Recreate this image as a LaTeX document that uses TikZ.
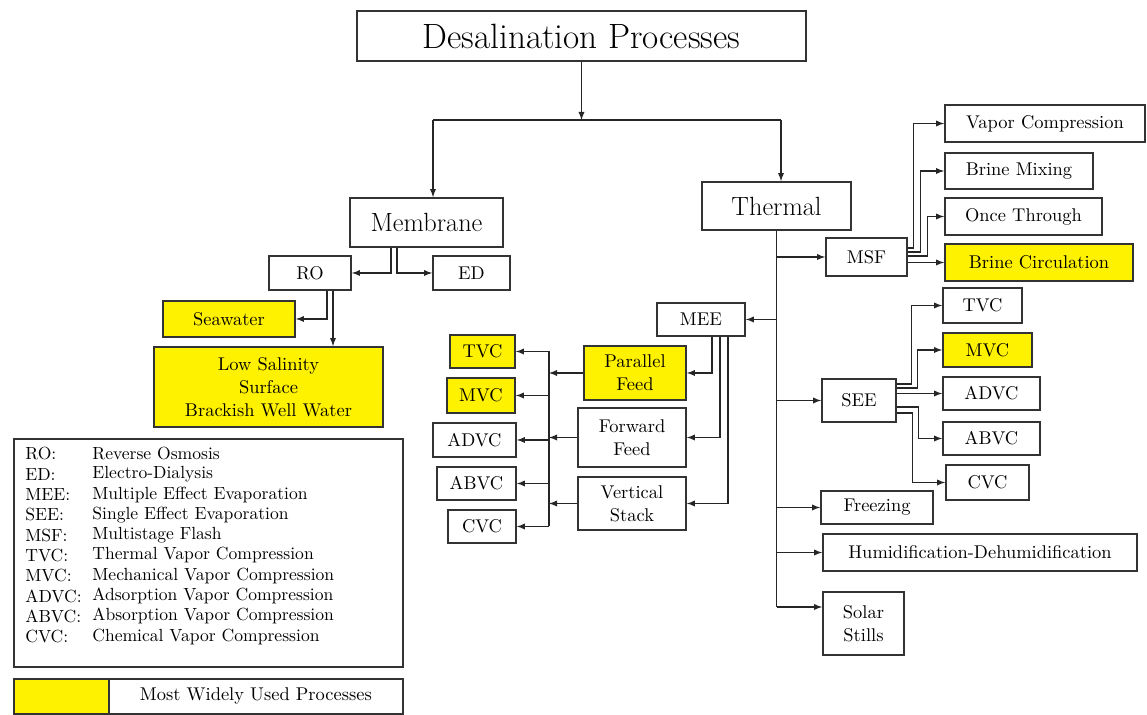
\documentclass[tikz,border=0pt]{standalone}
\usepackage{tikz}
\usetikzlibrary{calc, positioning}

\begin{document}
\begin{tikzpicture}[>=latex, x=0.02cm, y=-0.02cm,
    box/.style={draw=black!80, line width=1pt, inner sep=1pt, align=center, font=\fontsize{10.5}{13}\selectfont},
    big/.style={font=\fontsize{15}{17}\selectfont},
    hl/.style={fill=yellow},
    sz/.style 2 args={minimum width=#1*0.02cm, minimum height=#2*0.02cm},
    link/.style={line width=0.6pt, draw=black!85},
    lg/.style={anchor=west, inner sep=0pt, font=\fontsize{10}{12}\selectfont}]
    \useasboundingbox (0,0) rectangle (1147,715);
    % Các hộp chính
    \node[box, sz={449}{50}, font=\fontsize{20}{22}\selectfont] (title) at (581.5,36) {Desalination Processes};
    \node[box, big, sz={153}{49}] (membrane) at (426.5,222.5) {Membrane};
    \node[box, big, sz={149}{48}] (thermal) at (776.5,206) {Thermal};
    % Nhánh màng
    \node[box, sz={82}{34}] (ro) at (310,273) {RO};
    \node[box, sz={77}{34}] (ed) at (471.5,273) {ED};
    \node[box, hl, sz={132}{36}] (seawater) at (229,319) {Seawater};
    \node[box, hl, sz={229}{80}] (lowsal) at (268.5,387) {Low Salinity\\Surface\\Brackish Well Water};
    % Nhánh nhiệt: MSF
    \node[box, sz={81}{38}] (msf) at (866.5,257) {MSF};
    \node[box, sz={200}{37}] (vapcomp) at (1045,123.5) {Vapor Compression};
    \node[box, sz={148}{36}] (brinemix) at (1019,171) {Brine Mixing};
    \node[box, sz={157}{37}] (oncethru) at (1023.5,216.5) {Once Through};
    \node[box, hl, sz={188}{37}] (brinecirc) at (1039,262.5) {Brine Circulation};
    % SEE
    \node[box, sz={74}{43}] (see) at (859,400.5) {SEE};
    \node[box, sz={79}{35}] (tvcs) at (982.5,305.5) {TVC};
    \node[box, hl, sz={89}{34}] (mvcs) at (987.5,350) {MVC};
    \node[box, sz={97}{33}] (advcs) at (991.5,393.5) {ADVC};
    \node[box, sz={97}{33}] (abvcs) at (991.5,438.5) {ABVC};
    \node[box, sz={83}{35}] (cvcs) at (987.5,482.5) {CVC};
    \node[box, sz={112}{33}] (freezing) at (877,507.5) {Freezing};
    \node[box, sz={314}{37}] (humid) at (980,552.5) {Humidification-Dehumidification};
    \node[box, sz={81}{63}] (solar) at (863.5,623.5) {Solar\\Stills};
    % MEE
    \node[box, sz={88}{33}] (mee) at (701,319.5) {MEE};
    \node[box, hl, sz={102}{54}] (parallel) at (635,373) {Parallel\\Feed};
    \node[box, sz={108}{59}] (forward) at (632,437.5) {Forward\\Feed};
    \node[box, sz={108}{53}] (vertical) at (632,503.5) {Vertical\\Stack};
    \node[box, hl, sz={65}{33}] (tvcm) at (482.5,351.5) {TVC};
    \node[box, hl, sz={68}{35}] (mvcm) at (481,395.5) {MVC};
    \node[box, sz={83}{34}] (advcm) at (474.5,440) {ADVC};
    \node[box, sz={79}{33}] (abvcm) at (476.5,483.5) {ABVC};
    \node[box, sz={68}{33}] (cvcm) at (482,526.5) {CVC};

    % Đường nối phía trên
    \coordinate (jl) at (433,120);
    \coordinate (jr) at (781,120);
    \draw[link, ->] (title.south) -- (title.south |- jl);
    \draw[link] (jl) -- (jr);
    \draw[link, ->] (jl) -- (jl |- membrane.north);
    \draw[link, ->] (jr) -- (jr |- thermal.north);

    % Màng
    \draw[link, ->] (membrane.south -| 391,0) |- (ro.east);
    \draw[link, ->] (membrane.south -| 397,0) |- (ed.west);
    \draw[link, ->] (ro.south -| 327,0) |- (seawater.east);
    \draw[link, ->] (ro.south -| 333,0) -- (lowsal.north -| 333,0);

    % Trục nhiệt
    \coordinate (solarin) at (solar.west |- 0,607);
    \draw[link] (thermal.south) -- (thermal.south |- solarin);
    \draw[link, ->] (thermal.south |- solarin) -- (solarin);
    \foreach \n in {msf, see, freezing, humid}
        \draw[link, ->] (thermal.south |- \n.west) -- (\n.west);
    \draw[link, ->] (thermal.south |- mee.east) -- (mee.east);

    % MSF
    \draw[link, ->] (msf.east |- 0,248) -- ++(6,0) |- (vapcomp.west);
    \draw[link, ->] (msf.east |- 0,252) -- ++(13,0) |- (brinemix.west);
    \draw[link, ->] (msf.east |- 0,256) -- ++(20,0) |- (oncethru.west);
    \draw[link, ->] (msf.east |- brinecirc.west) -- (brinecirc.west);

    % SEE
    \draw[link, ->] (see.east |- 0,384) -- ++(15,0) |- (tvcs.west);
    \draw[link, ->] (see.east |- 0,388) -- ++(21,0) |- (mvcs.west);
    \draw[link, ->] (see.east |- advcs.west) -- (advcs.west);
    \draw[link, ->] (see.east |- 0,407) -- ++(22,0) |- (abvcs.west);
    \draw[link, ->] (see.east |- 0,413) -- ++(16,0) |- (cvcs.west);

    % MEE
    \draw[link, ->] (mee.south -| 712,0) |- (parallel.east);
    \draw[link, ->] (mee.south -| 720,0) |- (forward.east);
    \draw[link, ->] (mee.south -| 728,0) |- (vertical.east);
    \coordinate (bus) at (549,0);
    \draw[link] (bus |- tvcm.east) -- (bus |- cvcm.east);
    \foreach \n in {parallel, forward, vertical}
        \draw[link, ->] (\n.west) -- (\n.west -| bus);
    \foreach \n in {tvcm, mvcm, advcm, abvcm, cvcm}
        \draw[link, ->] (bus |- \n.east) -- (\n.east);

    % Chú thích
    \node[box, sz={389}{228}, anchor=north west] (legend) at (13,438) {};
    \foreach \ab/\txt [count=\i from 0] in {RO:/Reverse Osmosis, ED:/Electro-Dialysis,
        MEE:/Multiple Effect Evaporation, SEE:/Single Effect Evaporation,
        MSF:/Multistage Flash, TVC:/Thermal Vapor Compression,
        MVC:/Mechanical Vapor Compression, ADVC:/Adsorption Vapor Compression,
        ABVC:/Absorption Vapor Compression, CVC:/Chemical Vapor Compression} {
        \node[lg] (ab\i) at (25,{454+20.3*\i}) {\ab};
        \node[lg] (tx\i) at (92,{454+20.3*\i}) {\txt};
    }
    \node[box, hl, sz={95}{35}, anchor=north west] (keycol) at (13,678) {};
    \node[box, sz={294}{35}, anchor=north west] (keytxt) at (108,678) {Most Widely Used Processes};
\end{tikzpicture}
\end{document}
